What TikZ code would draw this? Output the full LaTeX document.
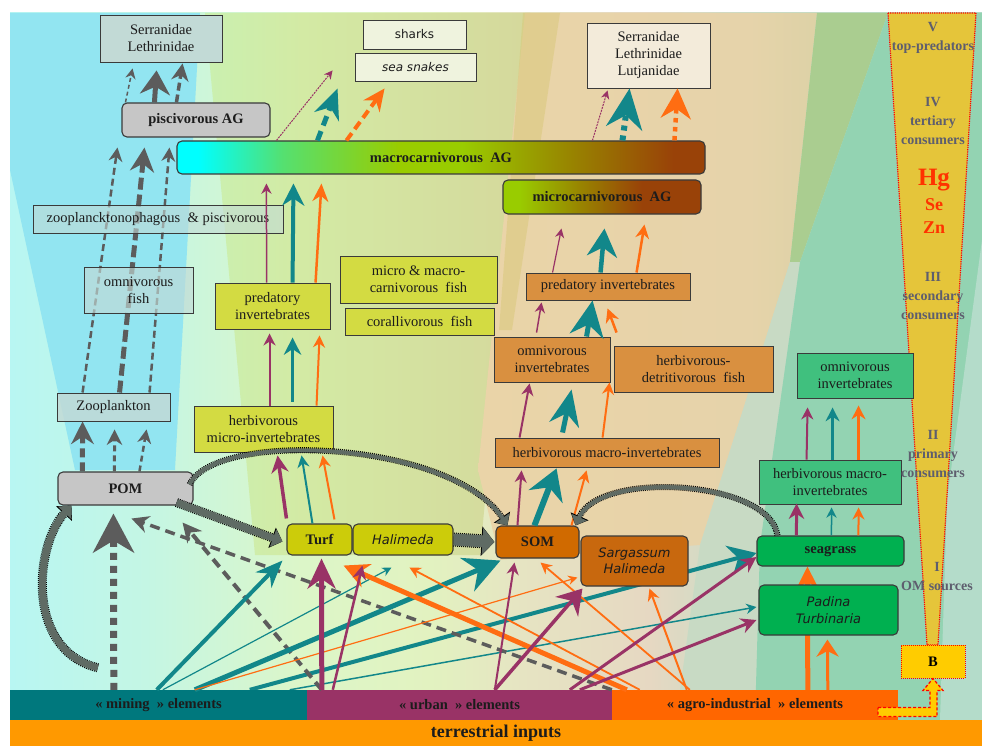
\documentclass[tikz,border=0pt]{standalone}
\usepackage{fontspec}
\setmainfont{Liberation Serif}
\newfontfamily\sansfont{DejaVu Sans}
\usepackage{tikz}
\usetikzlibrary{arrows.meta, calc, positioning}

% --- Fonts ---
\newcommand{\boxfont}{\fontsize{14.5}{17}\selectfont}
\newcommand{\italfont}{\sansfont\itshape\fontsize{13}{16.5}\selectfont}

% --- Flux colours ---
\definecolor{purc}{HTML}{993366}
\definecolor{tealc}{HTML}{12878A}
\definecolor{orangec}{HTML}{FF6D12}
\definecolor{grayc}{HTML}{5C5C5C}
\definecolor{bandc}{HTML}{5F6B64}
\definecolor{edgec}{HTML}{3A3A3A}
\definecolor{inkc}{HTML}{1C1C1C}
% --- Box fills ---
\definecolor{cyanbox}{HTML}{C2DAD6}
\definecolor{greybox}{HTML}{C6C6C6}
\definecolor{paleA}{HTML}{EFF3DE}
\definecolor{paleB}{HTML}{F3EBDA}
\definecolor{limebox}{HTML}{D3DB42}
\definecolor{olivebox}{HTML}{CCCC0A}
\definecolor{tanbox}{HTML}{D99040}
\definecolor{rustbox}{HTML}{D06A00}
\definecolor{rustbox2}{HTML}{C8680E}
\definecolor{mintbox}{HTML}{40C07E}
\definecolor{greenbox}{HTML}{00B050}
% --- Bars ---
\definecolor{minebar}{HTML}{00787D}
\definecolor{urbanbar}{HTML}{993366}
\definecolor{agrobar}{HTML}{FF6600}
\definecolor{terrbar}{HTML}{FF9900}
% --- Pyramid ---
\definecolor{pyrfill}{HTML}{E5C53A}
\definecolor{pyrtext}{HTML}{5E5E6E}
\definecolor{metalc}{HTML}{FF3300}
\definecolor{bfill}{HTML}{FFCC00}
% --- Background ---
\definecolor{flA}{HTML}{B8F6F2}
\definecolor{flB}{HTML}{C4F6E4}
\definecolor{flC}{HTML}{DCF6C8}
\definecolor{flD}{HTML}{E2F2C0}
\definecolor{flE}{HTML}{E6E4C2}
\definecolor{flF}{HTML}{E6D8C2}
\definecolor{flG}{HTML}{CADCC6}
\definecolor{flH}{HTML}{B2DCCA}
\definecolor{cyanw}{HTML}{92E5F1}
\definecolor{midA}{HTML}{CAF0B0}
\definecolor{midB}{HTML}{D3EAA4}
\definecolor{midC}{HTML}{D5D89C}
\definecolor{beB}{HTML}{EAD4A8}
\definecolor{beC}{HTML}{E6D3AA}
\definecolor{beD}{HTML}{DDD2A6}
\definecolor{tanstrip}{HTML}{D8C878}
\definecolor{lgw}{HTML}{AACD90}
\definecolor{greyw}{HTML}{C8DAC4}
\definecolor{tealw}{HTML}{93D3B2}
\definecolor{tealw2}{HTML}{B4DCCA}
% --- Gradient boxes ---
\definecolor{mcyan}{HTML}{00FFFF}
\definecolor{mgreen}{HTML}{55E070}
\definecolor{mlime}{HTML}{99CC00}
\definecolor{molive}{HTML}{988600}
\definecolor{mbrown}{HTML}{994208}

\pgfdeclarehorizontalshading{floorshade}{100bp}{color(0bp)=(flA); color(25bp)=(flA); color(32bp)=(flB); color(40bp)=(flC); color(46.6bp)=(flD); color(51.3bp)=(flE); color(57.9bp)=(flF); color(62.5bp)=(flG); color(75bp)=(flH); color(100bp)=(flH)}
\pgfdeclarehorizontalshading{macroshade}{100bp}{color(0bp)=(mcyan); color(25bp)=(mcyan); color(27bp)=(mcyan); color(35bp)=(mgreen); color(46bp)=(mlime); color(52bp)=(mlime); color(62bp)=(molive); color(72bp)=(mbrown); color(100bp)=(mbrown)}
\pgfdeclarehorizontalshading{microshade}{100bp}{color(0bp)=(mlime); color(25bp)=(mlime); color(29bp)=(mlime); color(44bp)=(molive); color(60bp)=(mbrown); color(100bp)=(mbrown)}
\pgfdeclarehorizontalshading{midshade}{100bp}{color(0bp)=(midA); color(25bp)=(midA); color(40bp)=(midB); color(75bp)=(midC); color(100bp)=(midC)}
\pgfdeclarehorizontalshading{beigeshade}{100bp}{color(0bp)=(beB); color(25bp)=(beB); color(65bp)=(beC); color(75bp)=(beD); color(100bp)=(beD)}

\pgfdeclarelayer{bg}
\pgfdeclarelayer{mid}
\pgfsetlayers{bg,mid,main}

\begin{document}
\begin{tikzpicture}[
    % one unit = one pixel of the figure, y pointing down
    x=1pt,
    y=-1pt,
    tbox/.style={draw=edgec, line width=0.9pt, inner sep=1pt, align=center, text=inkc, font=\boxfont},
    rbox/.style={tbox, rounded corners=5pt, line width=1.1pt},
    barbox/.style={inner sep=0pt, minimum height=30pt, text=inkc, font=\boxfont\bfseries},
    pyrlabel/.style={inner sep=0pt, align=center, text=pyrtext, font=\fontsize{14}{19}\selectfont\bfseries},
    pflow/.style={draw=purc, line width=#1, -{Stealth[length=5pt 3.5, width'=0pt 1]}},
    tflow/.style={draw=tealc, line width=#1, -{Stealth[length=5pt 3.5, width'=0pt 1]}},
    oflow/.style={draw=orangec, line width=#1, -{Stealth[length=5pt 3.5, width'=0pt 1]}},
    gflow/.style={draw=grayc, line width=#1, -{Stealth[length=5pt 3.5, width'=0pt 1]}},
    bandthin/.style={draw=bandc, line width=4pt, -{Triangle[length=9pt, width=16pt]},
        preaction={draw=black, line width=6pt, dash pattern=on 1pt off 1pt, -{Triangle[length=10pt, width=19pt]}}},
    bandthick/.style={draw=bandc, line width=7pt, -{Triangle[length=10pt, width=18pt]},
        preaction={draw=black, line width=9pt, dash pattern=on 1pt off 1pt, -{Triangle[length=11pt, width=21pt]}}},
    bandfat/.style={draw=bandc, line width=12pt, -{Triangle[length=12pt, width=26pt]},
        preaction={draw=black, line width=14pt, dash pattern=on 1pt off 1pt, -{Triangle[length=13pt, width=29pt]}}}
]
    \useasboundingbox (0,0) rectangle (982,746);

    % --- Background wedges ---
    \begin{pgfonlayer}{bg}
        \shade[shading=floorshade] (10,13) rectangle (982,720);
        \fill[cyanw] (10,13) -- (200,13) -- (175,470) -- (75,470) -- (10,170) -- cycle;
        \shade[shading=midshade] (205,13) -- (530,13) -- (480,555) -- (255,555) -- cycle;
        \shade[shading=beigeshade] (525,13) -- (817,13) -- (790,262) -- (700,545) -- (500,560) -- (478,470) -- cycle;
        \fill[tanstrip, opacity=0.5] (523,13) -- (560,13) -- (512,330) -- (499,330) -- cycle;
        \fill[lgw] (817,13) -- (888,13) -- (800,262) -- (790,262) -- cycle;
        \fill[greyw] (790,262) -- (800,262) -- (760,545) -- (755,690) -- (680,690) -- (700,545) -- cycle;
        \fill[tealw] (888,13) -- (982,13) -- (982,720) -- (755,720) -- (760,545) -- (800,262) -- cycle;
        \fill[tealw2] (982,240) -- (982,720) -- (940,720) -- (947,500) -- cycle;
        % trophic pyramid
        \filldraw[fill=pyrfill, draw=red, densely dotted, line width=1.2pt]
            (888,13) -- (976,13) -- (938,645) -- (927,645) -- cycle;
    \end{pgfonlayer}

    % --- Top predators ---
    \node[tbox, fill=cyanbox, minimum width=122pt, minimum height=47pt] (serL) at (161,38.5) {Serranidae\\Lethrinidae};
    \node[rbox, fill=greybox, minimum width=148pt, minimum height=34pt, font=\boxfont\bfseries] (pisc) at (196,120) {piscivorous AG};
    \node[tbox, fill=paleA, minimum width=103pt, minimum height=29pt, font=\sansfont\fontsize{12}{14}\selectfont] (sharks) at (414.5,34.5) {sharks};
    \node[tbox, fill=paleA, minimum width=121pt, minimum height=28pt, font=\sansfont\itshape\fontsize{12}{14}\selectfont] (snakes) at (415.5,67) {sea snakes};
    \node[tbox, fill=paleB, minimum width=123pt, minimum height=65pt] (serR) at (648.5,55.5) {Serranidae\\Lethrinidae\\Lutjanidae};

    % --- Carnivore groups ---
    \node[rbox, shade, shading=macroshade, minimum width=528pt, minimum height=33pt, font=\boxfont\bfseries] (macro) at (441,157.5) {macrocarnivorous~ AG};
    \node[rbox, shade, shading=microshade, minimum width=198pt, minimum height=34pt, font=\boxfont\bfseries] (micro) at (602,197) {microcarnivorous~ AG};

    % --- Pelagic column ---
    \node[tbox, fill=cyanbox, fill opacity=0.6, text opacity=1, minimum width=250pt, minimum height=28pt] (zoopi) at (158,219) {zooplancktonophagous~ \& piscivorous};
    \node[tbox, fill=cyanbox, fill opacity=0.65, text opacity=1, minimum width=109pt, minimum height=46pt] (omnif) at (138.5,290) {omnivorous\\fish};
    \node[tbox, fill=cyanbox, fill opacity=0.85, text opacity=1, minimum width=113pt, minimum height=28pt] (zoo) at (113.5,407) {Zooplankton};
    \node[rbox, fill=greybox, minimum width=135pt, minimum height=33pt, font=\boxfont\bfseries] (pom) at (125.5,488.5) {POM};

    % --- Turf column ---
    \node[tbox, fill=limebox, minimum width=115pt, minimum height=46pt] (predY) at (272.5,306) {predatory\\invertebrates};
    \node[tbox, fill=limebox, minimum width=157pt, minimum height=47pt] (mmfish) at (418.5,279.5) {micro \& macro-\\carnivorous~ fish};
    \node[tbox, fill=limebox, minimum width=149pt, minimum height=27pt] (coral) at (419.5,321.5) {corallivorous~ fish};
    \node[tbox, fill=limebox, minimum width=139pt, minimum height=46pt] (herbmicro) at (263.5,429) {herbivorous\\micro-invertebrates};
    \node[rbox, fill=olivebox, minimum width=65pt, minimum height=31pt, font=\boxfont\bfseries] (turf) at (319.5,539.5) {Turf};
    \node[rbox, fill=olivebox, minimum width=100pt, minimum height=31pt, font=\italfont] (halY) at (403,539.5) {Halimeda};

    % --- SOM column ---
    \node[tbox, fill=tanbox, minimum width=164pt, minimum height=27pt] (predO) at (608,286.5) {predatory invertebrates};
    \node[tbox, fill=tanbox, minimum width=116pt, minimum height=45pt] (omniO) at (552,359.5) {omnivorous\\invertebrates};
    \node[tbox, fill=tanbox, minimum width=159pt, minimum height=46pt] (herbdet) at (693.5,369) {herbivorous-\\detritivorous~ fish};
    \node[tbox, fill=tanbox, minimum width=224pt, minimum height=29pt] (herbmacO) at (607,452.5) {herbivorous macro-invertebrates};
    \node[rbox, fill=rustbox, minimum width=83pt, minimum height=32pt, font=\boxfont\bfseries] (som) at (537.5,542) {SOM};
    \node[rbox, fill=rustbox2, minimum width=107pt, minimum height=50pt, font=\italfont] (sarg) at (634.5,561) {Sargassum\\Halimeda};

    % --- Seagrass column ---
    \node[tbox, fill=mintbox, minimum width=116pt, minimum height=45pt] (omniG) at (855,375.5) {omnivorous\\invertebrates};
    \node[tbox, fill=mintbox, minimum width=142pt, minimum height=44pt] (herbmacG) at (830,482) {herbivorous macro-\\invertebrates};
    \node[rbox, fill=greenbox, minimum width=147pt, minimum height=30pt, font=\boxfont\bfseries] (seagrass) at (830.5,551) {seagrass};
    \node[rbox, fill=greenbox, minimum width=139pt, minimum height=50pt, font=\italfont] (padina) at (828.5,610) {Padina\\Turbinaria};

    % --- Inputs ---
    \node[barbox, fill=minebar, minimum width=297pt] (mining) at (158.5,705) {« mining~ » elements};
    \node[barbox, fill=urbanbar, minimum width=305pt] (urban) at (459.5,705) {« urban~ » elements};
    \node[barbox, fill=agrobar, minimum width=286pt] (agro) at (755,705) {« agro-industrial~ » elements};
    \node[barbox, fill=terrbar, minimum width=972pt, minimum height=26pt, font=\fontsize{18}{20}\selectfont\bfseries] (terr) at (496,733) {terrestrial inputs};
    \node[draw=red, densely dotted, line width=1pt, fill=bfill, minimum width=64pt, minimum height=33pt, font=\boxfont\bfseries] (bbox) at (933,661.5) {B};

    % --- Trophic levels ---
    \node[pyrlabel] (lvV) at (933,37.5) {V\\top-predators};
    \node[pyrlabel] (lvIV) at (933,121.5) {IV\\tertiary\\consumers};
    \node[font=\fontsize{25}{26}\selectfont\bfseries, text=metalc, inner sep=0pt] (hg) at (934,180) {Hg};
    \node[font=\fontsize{18}{19}\selectfont\bfseries, text=metalc, inner sep=0pt] (se) at (934,205) {Se};
    \node[font=\fontsize{18}{19}\selectfont\bfseries, text=metalc, inner sep=0pt] (zn) at (934,228) {Zn};
    \node[pyrlabel] (lvIII) at (933,296.5) {III\\secondary\\consumers};
    \node[pyrlabel] (lvII) at (933,454) {II\\primary\\consumers};
    \node[pyrlabel] (lvI) at (937,576) {I\\OM sources};

    % --- Fluxes drawn behind boxes ---
    \begin{pgfonlayer}{mid}
        \draw[gflow=2.5pt, dash pattern=on 7pt off 4pt] ([xshift=26pt]zoo.north west) -- ([xshift=-4pt,yshift=-10pt]pisc.south west);
        \draw[gflow=5pt, dash pattern=on 12pt off 5pt, -{Stealth[length=24pt, width=24pt]}] ([xshift=63pt]zoo.north west) -- ([xshift=23pt,yshift=-10pt]pisc.south west);
        \draw[gflow=2.5pt, dash pattern=on 7pt off 4pt] ([xshift=93pt]zoo.north west) -- ([xshift=48pt,yshift=-10pt]pisc.south west);
        \draw[tflow=4pt, -{Stealth[length=28pt, width=30pt]}] ([xshift=240pt]mining.north west) -- ([yshift=-2pt]seagrass.west);
        \draw[tflow=1.5pt] ([xshift=280pt]mining.north west) -- ([xshift=-2pt,yshift=3pt]padina.west);
        \draw[oflow=5pt] ([xshift=196pt]agro.north west) -- ([xshift=51pt]seagrass.south west);
    \end{pgfonlayer}

    % --- Pelagic fluxes ---
    \draw[gflow=5pt, dash pattern=on 9pt off 5pt] ([xshift=25pt]pom.north west) -- ([xshift=26pt]zoo.south west);
    \draw[gflow=3pt, dash pattern=on 6pt off 4pt] ([xshift=57pt]pom.north west) -- ([xshift=58pt,yshift=-8pt]zoo.south west);
    \draw[gflow=2.5pt, dash pattern=on 6pt off 4pt] ([xshift=82pt]pom.north west) -- ([xshift=90pt,yshift=-8pt]zoo.south west);
    \draw[gflow=1.5pt, dash pattern=on 4pt off 3pt] ([xshift=4pt]pisc.north west) -- ([xshift=33pt,yshift=-6pt]serL.south west);
    \draw[gflow=5pt, -{Stealth[length=24pt, width=30pt]}] ([xshift=33pt]pisc.north west) -- ([xshift=57pt,yshift=-8pt]serL.south west);
    \draw[gflow=3.5pt, dash pattern=on 8pt off 4pt] ([xshift=55pt]pisc.north west) -- ([xshift=83pt,yshift=-1pt]serL.south west);

    % --- Top fluxes ---
    \draw[pflow=1pt, dash pattern=on 2pt off 1pt] ([xshift=100pt]macro.north west) -- ([xshift=-22pt,yshift=11pt]snakes.south west);
    \draw[tflow=5pt, dash pattern=on 10pt off 6pt, -{Stealth[length=30pt, width=26pt]}] ([xshift=141pt]macro.north west) -- ([xshift=-17pt,yshift=-7pt]snakes.south west);
    \draw[oflow=4pt, dash pattern=on 9pt off 5pt, -{Stealth[length=22pt, width=20pt]}] ([xshift=170pt]macro.north west) -- ([xshift=30pt,yshift=-7pt]snakes.south west);
    \draw[pflow=1pt, dash pattern=on 2pt off 1pt] ([xshift=416pt]macro.north west) -- ([xshift=21pt,yshift=-2pt]serR.south west);
    \draw[tflow=6pt, dash pattern=on 5pt off 5pt, -{Stealth[length=40pt, width=36pt]}] ([xshift=446pt]macro.north west) -- ([xshift=43pt]serR.south west);
    \draw[oflow=4.5pt, dash pattern=on 4.5pt off 4.5pt, -{Stealth[length=30pt, width=30pt]}] ([xshift=498pt]macro.north west) -- ([xshift=91pt]serR.south west);

    % --- Turf chain ---
    \draw[pflow=1.5pt] ([xshift=52pt]predY.north west) -- ([xshift=90pt,yshift=-9pt]macro.south west);
    \draw[tflow=4pt, -{Stealth[length=22pt, width=22pt]}] ([xshift=78pt]predY.north west) -- ([xshift=117pt,yshift=-9pt]macro.south west);
    \draw[oflow=2.5pt, -{Stealth[length=18pt, width=16pt]}] ([xshift=101pt]predY.north west) -- ([xshift=145pt,yshift=-9pt]macro.south west);
    \draw[pflow=2pt] ([xshift=76pt]herbmicro.north west) -- ([xshift=55pt,yshift=-4pt]predY.south west);
    \draw[tflow=3.5pt] ([xshift=99pt,yshift=4pt]herbmicro.north west) -- ([xshift=78pt,yshift=-8pt]predY.south west);
    \draw[oflow=2pt] ([xshift=123pt]herbmicro.north west) -- ([xshift=105pt,yshift=-6pt]predY.south west);
    \draw[pflow=3.5pt] ([yshift=5pt]turf.north west) -- ([xshift=84pt,yshift=-3pt]herbmicro.south west);
    \draw[tflow=2pt] ([xshift=26pt]turf.north west) -- ([xshift=108pt,yshift=-3pt]herbmicro.south west);
    \draw[oflow=2pt] ([xshift=48pt,yshift=4pt]turf.north west) -- ([xshift=129pt,yshift=-3pt]herbmicro.south west);

    % --- SOM chain ---
    \draw[pflow=1.2pt] ([xshift=27pt]predO.north west) -- ([xshift=59pt,yshift=-14pt]micro.south west);
    \draw[tflow=4.5pt, -{Stealth[length=28pt, width=30pt]}] ([xshift=75pt]predO.north west) -- ([xshift=102pt,yshift=-14pt]micro.south west);
    \draw[oflow=2.5pt] ([xshift=111pt]predO.north west) -- ([xshift=142pt,yshift=-10pt]micro.south west);
    \draw[pflow=1.5pt] ([xshift=43pt,yshift=4pt]omniO.north west) -- ([xshift=16pt,yshift=-2pt]predO.south west);
    \draw[tflow=5pt, -{Stealth[length=36pt, width=34pt]}] ([xshift=93pt]omniO.north west) -- ([xshift=67pt]predO.south west);
    \draw[oflow=2.5pt] ([xshift=123pt,yshift=4pt]omniO.north west) -- ([xshift=82pt,yshift=-8pt]predO.south west);
    \draw[pflow=2pt] ([xshift=25pt]herbmacO.north west) -- ([xshift=36pt,yshift=-1pt]omniO.south west);
    \draw[tflow=5pt, -{Stealth[length=36pt, width=30pt]}] ([xshift=68pt,yshift=5pt]herbmacO.north west) -- ([xshift=78pt,yshift=-7pt]omniO.south west);
    \draw[oflow=2pt] ([xshift=108pt]herbmacO.north west) -- ([xshift=116pt]omniO.south west);
    \draw[pflow=2pt] ([xshift=22pt]som.north west) -- ([xshift=27pt,yshift=-3pt]herbmacO.south west);
    \draw[tflow=6pt, -{Stealth[length=30pt, width=36pt]}] ([xshift=39pt]som.north west) -- ([xshift=62pt,yshift=-1pt]herbmacO.south west);
    \draw[oflow=2pt] ([xshift=76pt]som.north west) -- ([xshift=92pt,yshift=-3pt]herbmacO.south west);

    % --- Seagrass chain ---
    \draw[pflow=2pt] ([xshift=48pt]herbmacG.north west) -- ([xshift=11pt,yshift=-9pt]omniG.south west);
    \draw[tflow=2.5pt] ([xshift=74pt]herbmacG.north west) -- ([xshift=36pt,yshift=-9pt]omniG.south west);
    \draw[oflow=2.5pt] ([xshift=100pt]herbmacG.north west) -- ([xshift=62pt,yshift=-7pt]omniG.south west);
    \draw[pflow=3pt] ([xshift=40pt]seagrass.north west) -- ([xshift=38pt,yshift=1pt]herbmacG.south west);
    \draw[tflow=1.5pt] ([xshift=75pt]seagrass.north west) -- ([xshift=73pt,yshift=-3pt]herbmacG.south west);
    \draw[oflow=2pt] ([xshift=102pt]seagrass.north west) -- ([xshift=100pt,yshift=-3pt]herbmacG.south west);
    \draw[oflow=3pt, -{Stealth[length=17pt, width=22pt]}] ([xshift=216pt]agro.north west) -- ([xshift=69pt,yshift=-4pt]padina.south west);

    % --- Organic matter transfers ---
    \draw[bandthick] ([xshift=-17pt,yshift=3pt]pom.south east) -- ([xshift=-4pt,yshift=-2pt]turf.west);
    \draw[bandfat] (halY.east) -- ([xshift=-1pt]som.west);
    \draw[bandthin] ([xshift=-4pt,yshift=4pt]pom.east) .. controls (215,430) and (450,440) .. ([xshift=12pt]som.north west);
    \draw[bandthin] ([xshift=21pt]seagrass.north west) .. controls (770,480) and (600,470) .. ([xshift=-4pt]som.north east);
    \draw[bandthick] ([xshift=88pt,yshift=22pt]mining.north west) .. controls (25,650) and (35,545) .. ([xshift=14pt]pom.south west);

    % --- Terrestrial inputs ---
    \draw[gflow=7pt, dash pattern=on 7pt off 6pt, -{Stealth[length=39pt, width=41pt, inset=12pt]}] ([xshift=104pt]mining.north west) -- ([xshift=56pt,yshift=-8pt]pom.south west);
    \draw[gflow=4pt, dash pattern=on 10pt off 6pt] ([xshift=15pt]urban.north west) -- ([xshift=-11pt,yshift=-17pt]pom.south east);
    \draw[gflow=3.5pt, dash pattern=on 10pt off 6pt] (agro.north west) -- ([xshift=74pt,yshift=-13pt]pom.south west);
    \draw[tflow=4pt, -{Stealth[length=27pt, width=22pt]}] ([xshift=147pt]mining.north west) -- ([xshift=-4pt,yshift=-5pt]turf.south west);
    \draw[tflow=1.2pt] ([xshift=153pt]mining.north west) -- ([xshift=39pt,yshift=-12pt]halY.south west);
    \draw[tflow=5pt, -{Stealth[length=36pt, width=36pt]}] ([xshift=185pt]mining.north west) -- ([xshift=5pt,yshift=-2pt]som.south west);
    \draw[oflow=1.2pt] ([xshift=185pt]mining.north west) -- ([xshift=-3pt,yshift=9pt]sarg.south west);
    \draw[oflow=5pt, -{Stealth[length=25pt, width=25pt]}] ([xshift=15pt]agro.north west) -- ([xshift=-9pt,yshift=-10pt]turf.south east);
    \draw[oflow=1.8pt] ([xshift=28pt]agro.north west) -- ([xshift=57pt,yshift=-12pt]halY.south west);
    \draw[oflow=1.8pt] ([xshift=78pt]agro.north west) -- ([xshift=3pt,yshift=-4pt]som.south);
    \draw[oflow=2pt] ([xshift=75pt]agro.north west) -- ([xshift=69pt,yshift=-2pt]sarg.south west);
    \draw[pflow=5pt, -{Stealth[length=30pt, width=28pt]}] ([xshift=15pt]urban.north west) -- ([xshift=2pt,yshift=-3pt]turf.south);
    \draw[pflow=2.5pt] ([xshift=26pt]urban.north west) -- ([xshift=10pt,yshift=-10pt]halY.south west);
    \draw[pflow=2pt] ([xshift=188pt]urban.north west) -- ([xshift=19pt,yshift=-4pt]som.south west);
    \draw[pflow=3.5pt, -{Stealth[length=24pt, width=30pt]}] ([xshift=188pt]urban.north west) -- ([xshift=2pt,yshift=-2pt]sarg.south west);
    \draw[pflow=3pt] ([xshift=263pt]urban.north west) -- ([yshift=-6pt]seagrass.west);
    \draw[pflow=3pt] ([xshift=273pt]urban.north west) -- ([xshift=-2pt,yshift=-10pt]padina.west);

    % agro-industrial elements to B
    \filldraw[fill=bfill, draw=red, densely dashed, line width=1.2pt]
        ([xshift=-55pt,yshift=-29pt]bbox.south) -- ++(52,0) -- ++(0,-17) -- ++(-7,0) -- (bbox.south)
        -- ++(10,12) -- ++(-6,0) -- ++(0,26) -- ++(-59,0) -- cycle;

\end{tikzpicture}
\end{document}
